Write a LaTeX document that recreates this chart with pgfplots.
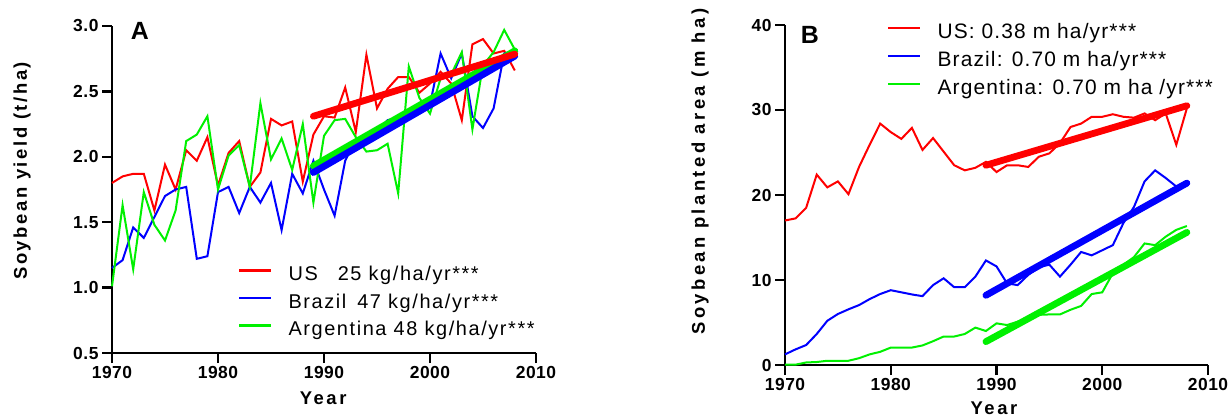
\documentclass[border=0pt]{standalone}
\usepackage{fontspec}
\setmainfont{Liberation Sans}
\newfontfamily\lblfont[LetterSpace=14]{Liberation Sans}
\newfontfamily\lblfontb[LetterSpace=18.5]{Liberation Sans}
\newfontfamily\legfont[LetterSpace=8]{Liberation Sans}
\newfontfamily\legfontb[LetterSpace=5.5]{Liberation Sans}
\newfontfamily\tickfont[LetterSpace=3]{Liberation Sans}
\usepackage{pgfplots}
\usepackage{pgfplotstable}
\pgfplotsset{compat=1.18}

\definecolor{cus}{RGB}{255,0,0}
\definecolor{cbr}{RGB}{0,0,255}
\definecolor{car}{RGB}{0,240,0}

\pgfplotstableread{
year us br ar
1970 1.80 1.15 1.01
1971 1.85 1.21 1.63
1972 1.87 1.46 1.14
1973 1.87 1.38 1.73
1974 1.59 1.54 1.48
1975 1.94 1.70 1.36
1976 1.75 1.75 1.59
1977 2.05 1.77 2.12
1978 1.97 1.22 2.17
1979 2.15 1.24 2.31
1980 1.78 1.73 1.75
1981 2.03 1.77 2.01
1982 2.12 1.57 2.09
1983 1.77 1.77 1.77
1984 1.88 1.65 2.41
1985 2.29 1.80 1.98
1986 2.24 1.44 2.14
1987 2.27 1.87 1.90
1988 1.81 1.72 2.25
1989 2.17 1.97 1.65
1990 2.31 1.75 2.16
1991 2.30 1.55 2.28
1992 2.53 1.97 2.29
1993 2.19 2.13 2.15
1994 2.78 2.15 2.04
1995 2.37 2.20 2.05
1996 2.52 2.28 2.10
1997 2.61 2.30 1.72
1998 2.61 2.36 2.69
1999 2.49 2.38 2.45
2000 2.56 2.40 2.33
2001 2.65 2.79 2.60
2002 2.56 2.60 2.63
2003 2.28 2.79 2.80
2004 2.86 2.31 2.21
2005 2.90 2.22 2.70
2006 2.79 2.37 2.80
2007 2.81 2.79 2.97
2008 2.66 2.81 2.82
}\yieldtab

\pgfplotstableread{
year us br ar
1989 2.31 1.88 1.93
2008 2.785 2.77 2.81
}\yieldfit

\pgfplotstableread{
year us br ar
1970 17.0 1.25 0.03
1971 17.25 1.84 0.04
1972 18.5 2.35 0.3
1973 22.4 3.65 0.35
1974 20.9 5.2 0.5
1975 21.6 6.0 0.5
1976 20.1 6.55 0.5
1977 23.3 7.05 0.8
1978 25.9 7.75 1.25
1979 28.4 8.35 1.55
1980 27.4 8.8 2.05
1981 26.6 8.55 2.05
1982 27.9 8.3 2.05
1983 25.3 8.1 2.3
1984 26.7 9.4 2.8
1985 25.1 10.2 3.35
1986 23.5 9.15 3.35
1987 22.9 9.15 3.65
1988 23.2 10.4 4.4
1989 23.9 12.3 4.0
1990 22.7 11.6 4.9
1991 23.5 9.6 4.7
1992 23.5 9.4 5.1
1993 23.3 10.6 5.4
1994 24.5 11.5 5.9
1995 24.9 11.8 5.95
1996 26.1 10.4 5.95
1997 28.0 11.8 6.5
1998 28.4 13.3 6.95
1999 29.2 12.9 8.35
2000 29.2 13.5 8.55
2001 29.5 14.1 10.8
2002 29.2 16.7 11.8
2003 29.1 18.6 12.7
2004 29.6 21.6 14.3
2005 28.8 22.9 14.1
2006 29.6 22.0 15.1
2007 25.9 21.0 15.9
2008 30.2 21.4 16.35
}\areatab

\pgfplotstableread{
year us br ar
1989 23.5 8.2 2.75
2008 30.5 21.4 15.6
}\areafit

\pgfplotsset{
  myax/.style={
    scale only axis,
    axis x line*=bottom,
    axis y line*=left,
    axis line style={line width=2.4bp, black},
    tick align=outside,
    major tick length=10bp,
    every tick/.style={black, line width=2.4bp},
    xmin=1970, xmax=2010,
    xtick={1970,1980,...,2010},
    x tick label style={/pgf/number format/1000 sep={}},
    /pgf/number format/assume math mode=true,
    ticklabel style={font=\tickfont\fontsize{17.5}{17.5}\selectfont\bfseries},
    label style={font=\lblfont\fontsize{18.5}{18.5}\selectfont\bfseries},
    clip=false,
    legend cell align=left,
    legend image code/.code={\draw[##1, line width=2.4bp] (0bp,5bp) -- (32bp,5bp);},
  },
  dl/.style={line width=2bp},
  fl/.style={line width=6.8bp, line cap=round},
}

\begin{document}
\begin{tikzpicture}[x=1bp,y=1bp]
\useasboundingbox (0,0) rectangle (1229,416);
% Panel A
\begin{axis}[myax,
  at={(112bp,63bp)}, anchor=south west,
  width=424bp, height=327bp,
  ymin=0.5, ymax=3.0,
  ytick={0.5,1.0,...,3.0},
  y tick label style={/pgf/number format/.cd, fixed, fixed zerofill, precision=1},
  xlabel={Year}, ylabel={Soybean yield (t/ha)},
  xlabel style={at={(rel axis cs:0.498,-0.159)}, anchor=base},
  ylabel style={at={(rel axis cs:-0.212,0.557)}, anchor=center},
  legend style={draw=none, fill=none, at={(rel axis cs:0.297,0.265)}, anchor=north west,
    font=\legfont\fontsize{20}{20}\selectfont, row sep=9.5bp, inner sep=0pt,
    nodes={inner sep=0pt, text height=14bp, text depth=4bp},
    /tikz/every odd column/.append style={column sep=16bp}},
]
\addplot[dl, cus] table[x=year, y=us] {\yieldtab};
\addlegendentry{US\hspace{20bp}25 kg/ha/yr***}
\addplot[dl, cbr] table[x=year, y=br] {\yieldtab};
\addlegendentry{Brazil\hspace{11bp}47 kg/ha/yr***}
\addplot[dl, car] table[x=year, y=ar] {\yieldtab};
\addlegendentry{Argentina 48 kg/ha/yr***}
\addplot[fl, car, forget plot] table[x=year, y=ar] {\yieldfit};
\addplot[fl, cbr, forget plot] table[x=year, y=br] {\yieldfit};
\addplot[fl, cus, forget plot] table[x=year, y=us] {\yieldfit};
\node[font=\fontsize{25}{25}\selectfont\bfseries] at (rel axis cs:0.066,0.986) {A};
\end{axis}
% Panel B
\begin{axis}[myax,
  at={(785bp,51bp)}, anchor=south west,
  width=423bp, height=340bp,
  ymin=0, ymax=40,
  ytick={0,10,...,40},
  xlabel={Year}, ylabel={Soybean planted area (m ha)},
  xlabel style={at={(rel axis cs:0.494,-0.145)}, anchor=base},
  ylabel style={at={(rel axis cs:-0.201,0.569)}, anchor=center, font=\lblfontb\fontsize{18.5}{18.5}\selectfont\bfseries},
  legend style={draw=none, fill=none, at={(rel axis cs:0.241,1.005)}, anchor=north west,
    font=\legfontb\fontsize{21}{21}\selectfont, row sep=9bp, inner sep=0pt,
    nodes={inner sep=0pt, text height=15bp, text depth=4bp},
    /tikz/every odd column/.append style={column sep=16bp}},
]
\addplot[dl, cus] table[x=year, y=us] {\areatab};
\addlegendentry{US: 0.38 m ha/yr***}
\addplot[dl, cbr] table[x=year, y=br] {\areatab};
\addlegendentry{Brazil: 0.70 m ha/yr***}
\addplot[dl, car] table[x=year, y=ar] {\areatab};
\addlegendentry{Argentina: 0.70 m ha /yr***}
\addplot[fl, car, forget plot] table[x=year, y=ar] {\areafit};
\addplot[fl, cbr, forget plot] table[x=year, y=br] {\areafit};
\addplot[fl, cus, forget plot] table[x=year, y=us] {\areafit};
\node[font=\fontsize{25}{25}\selectfont\bfseries] at (rel axis cs:0.059,0.972) {B};
\end{axis}
\end{tikzpicture}
\end{document}
